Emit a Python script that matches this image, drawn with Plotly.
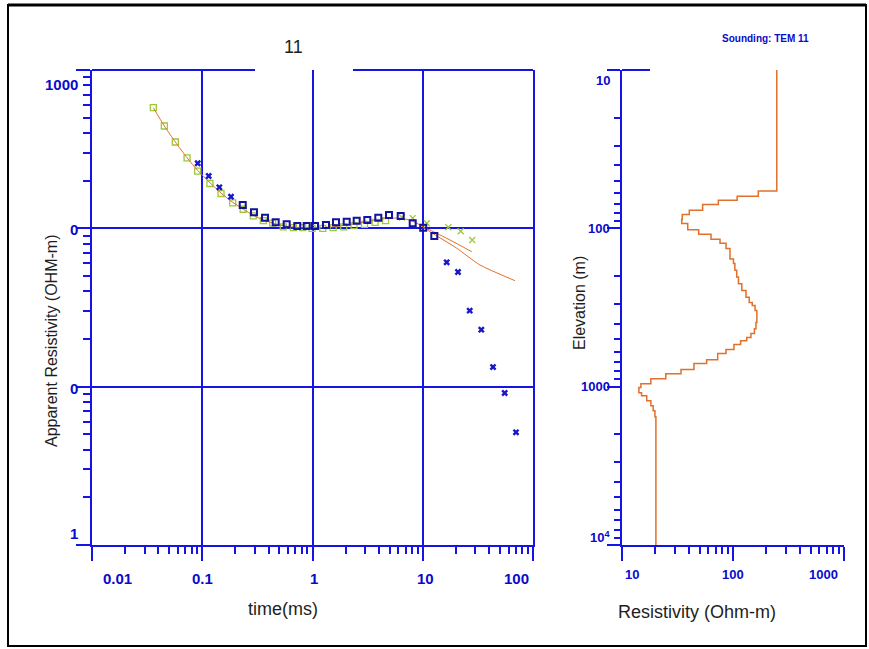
import numpy as np
import plotly.graph_objects as go

# ---------------- data ----------------
# Left panel: apparent resistivity vs time (ms)
green_sq_t = [0.036, 0.0453, 0.057, 0.0728, 0.091, 0.1175, 0.148, 0.189, 0.235, 0.29,
              0.358, 0.435, 0.543, 0.67, 0.815, 0.99, 1.24, 1.54, 1.92, 2.38, 2.96, 3.7, 4.6]
green_sq_rho = [578, 443, 351, 279, 230, 192, 166, 145, 132, 120,
                112, 108, 102, 101, 101, 100, 100, 101, 102, 104, 106, 109, 112]

green_x_t = [6.5, 8.1, 10.9, 17.05, 22.1, 28.1]
green_x_rho = [117, 116, 107.6, 101.5, 95.8, 84.4]

blue_sq_t = [0.2328, 0.2946, 0.3709, 0.4637, 0.5834, 0.728, 0.886, 1.054, 1.326, 1.634,
             2.043, 2.517, 3.142, 3.952, 4.941, 6.31, 8.11, 10.1, 12.73]
blue_sq_rho = [140.4, 126.2, 116.7, 109.2, 106, 103.4, 103.4, 103.4, 105, 109.2,
               110.1, 111.7, 112.9, 116.7, 121.4, 119.6, 107.6, 100.9, 89.5]

blue_x_t = [0.091, 0.1144, 0.1428, 0.1823, 16.49, 20.88, 26.66, 33.97, 43.38, 55.38, 70.1]
blue_x_rho = [257.6, 214, 181.6, 158.4, 61.0, 53.0, 30.2, 22.9, 13.3, 9.12, 5.15]

fit_t = [0.036, 0.0453, 0.057, 0.0728, 0.091, 0.1175, 0.148, 0.189, 0.235, 0.29, 0.358,
         0.435, 0.543, 0.67, 0.815, 1.054, 1.5, 2.043, 3.142, 4.5, 6.3, 8.11, 10.1, 11.7,
         20.3, 33.0, 68.7]
fit_rho = [578, 443, 351, 279, 232, 194, 167, 146, 132, 121, 113,
           108, 104, 102, 101, 101, 102, 105, 110, 115, 116, 111, 102, 95,
           75, 58.7, 46.7]

fit2_t = [10.1, 11.6, 17.66, 27.8]
fit2_rho = [101, 97.6, 84.4, 71.2]

# Right panel: layered resistivity model
layer_rho = [248, 169, 109, 73.8, 53.3, 40.4, 34.9, 34.5, 39.1, 49.1, 63.4, 76.4, 86.5, 94,
             101, 104, 108, 112, 120, 131, 140, 149, 158, 164, 161, 156, 145, 133, 117, 102,
             86.5, 72.8, 57.9, 44.5, 34, 24.8, 18.2, 14.8, 14.2, 15.0, 16.7, 18.2, 19.1, 19.8,
             20.2]
layer_bottom = [58.1, 62.7, 66.5, 70.8, 76.9, 81.9, 88.1, 93.3, 102, 109, 117, 124, 134, 156,
                167, 184, 203, 224, 247, 272, 294, 307, 330, 394, 430, 462, 490, 512, 542,
                583, 618, 675, 715, 780, 828, 890, 957, 1014, 1091, 1140, 1227, 1319, 1419,
                1549]
model_top = 10
model_base = 10000

# tick labels (as shown in the reference)
left_x_ticks = [0.01, 0.1, 1, 10, 100]
left_x_labels = ["0.01", "0.1", "1", "10", "100"]
left_y_ticks = [1000, 100, 10, 1]
left_y_labels = ["1000", "0", "0", "1"]
right_x_ticks = [10, 100, 1000]
right_x_labels = ["10", "100", "1000"]
right_y_ticks = [10, 100, 1000, 10000]
right_y_labels = ["10", "100", "1000", "10<sup>4</sup>"]

# ---------------- styling ----------------
W, H = 869, 649
BLUE = "#1414E6"
LBL_BLUE = "#0A0ACC"
MK_BLUE = "#12129E"
GREEN = "#9CC83A"
ORANGE = "#E0702A"
TXT = "#1e1e1e"
NARROW = "Liberation Sans Narrow, Arial Narrow, Liberation Sans, Arial"
SANS = "Liberation Sans, Arial, sans-serif"


def fx(p):
    return p / W


def fy(p):
    return 1 - p / H


def minors(decades):
    return [m * d for d in decades for m in range(2, 10)]


fig = go.Figure()

fig.add_trace(go.Scatter(x=green_sq_t, y=green_sq_rho, mode="markers",
                         marker=dict(symbol="square-open", size=6, color=GREEN,
                                     line=dict(width=1.3, color=GREEN)),
                         xaxis="x", yaxis="y", showlegend=False))
fig.add_trace(go.Scatter(x=green_x_t, y=green_x_rho, mode="markers",
                         marker=dict(symbol="x-thin-open", size=6, color=GREEN,
                                     line=dict(width=1.3, color=GREEN)),
                         xaxis="x", yaxis="y", showlegend=False))
fig.add_trace(go.Scatter(x=fit_t, y=fit_rho, mode="lines",
                         line=dict(color=ORANGE, width=1, shape="spline", smoothing=0.6),
                         xaxis="x", yaxis="y", showlegend=False))
fig.add_trace(go.Scatter(x=fit2_t, y=fit2_rho, mode="lines",
                         line=dict(color=ORANGE, width=1, shape="spline", smoothing=0.6),
                         xaxis="x", yaxis="y", showlegend=False))
fig.add_trace(go.Scatter(x=blue_sq_t, y=blue_sq_rho, mode="markers",
                         marker=dict(symbol="square-open", size=6, color=MK_BLUE,
                                     line=dict(width=2, color=MK_BLUE)),
                         xaxis="x", yaxis="y", showlegend=False))
fig.add_trace(go.Scatter(x=blue_x_t, y=blue_x_rho, mode="markers",
                         marker=dict(symbol="x", size=6, color="#1818C8",
                                     line=dict(width=0)),
                         xaxis="x", yaxis="y", showlegend=False))

# layered model (step profile)
fig.add_trace(go.Scatter(x=layer_rho + [layer_rho[-1]],
                         y=[model_top] + layer_bottom + [model_base],
                         mode="lines", line=dict(color=ORANGE, width=1.5, shape="vh"),
                         xaxis="x2", yaxis="y2", showlegend=False))

left_dom_x = [fx(92), fx(533)]
right_dom_x = [fx(622), fx(844)]
dom_y = [fy(545), fy(70)]

common = dict(showline=True, linecolor=BLUE, linewidth=2, ticks="outside",
              tickcolor=BLUE, tickwidth=2, showticklabels=False, zeroline=False)

fig.update_layout(
    width=W, height=H,
    margin=dict(l=0, r=0, t=0, b=0),
    paper_bgcolor="white", plot_bgcolor="white",
    xaxis=dict(type="log", range=[-2, 2], domain=left_dom_x, anchor="y",
               tickvals=left_x_ticks, ticklen=14, showgrid=True,
               gridcolor=BLUE, gridwidth=2,
               minor=dict(tickvals=minors([0.01, 0.1, 1, 10]), ticks="outside",
                          ticklen=7, tickwidth=2, tickcolor=BLUE, showgrid=False),
               **common),
    yaxis=dict(type="log", range=[0, 3], domain=dom_y, anchor="x", mirror=True,
               tickvals=left_y_ticks, ticklen=14, showgrid=True,
               gridcolor=BLUE, gridwidth=2,
               minor=dict(tickvals=minors([1, 10, 100]), ticks="outside",
                          ticklen=7, tickwidth=2, tickcolor=BLUE, showgrid=False),
               **common),
    xaxis2=dict(type="log", range=[1, 3], domain=right_dom_x, anchor="y2",
                tickvals=right_x_ticks, ticklen=14, showgrid=False,
                minor=dict(tickvals=minors([10, 100]), ticks="outside",
                           ticklen=7, tickwidth=2, tickcolor=BLUE, showgrid=False),
                **common),
    yaxis2=dict(type="log", range=[4, 1], domain=dom_y, anchor="x2",
                tickvals=right_y_ticks, ticklen=13, showgrid=False,
                minor=dict(tickvals=minors([10, 100, 1000]), ticks="outside",
                           ticklen=6, tickwidth=2, tickcolor=BLUE, showgrid=False),
                **common),
    yaxis3=dict(type="log", range=[4, 1], overlaying="y2", anchor="x2", side="right",
                showline=True, linecolor=BLUE, linewidth=2, ticks="inside",
                tickvals=[100, 1000], ticklen=13, tickwidth=2, tickcolor=BLUE,
                showticklabels=False, showgrid=False, zeroline=False),
    xaxis3=dict(type="log", range=[1, 3], overlaying="x2", anchor="y2", side="top",
                showline=False, ticks="inside", tickvals=[100], ticklen=10,
                tickwidth=2, tickcolor=BLUE, showticklabels=False, showgrid=False,
                zeroline=False),
)

annotations = []
lab_font = dict(family=NARROW, size=15, color=LBL_BLUE, weight="bold")
lab_font_r = dict(family=NARROW, size=13, color=LBL_BLUE, weight="bold")

left_x_shift = {"0.01": 25, "0.1": 0, "1": 1, "10": 3, "100": -17}
for v, lab in zip(left_x_ticks, left_x_labels):
    annotations.append(dict(x=np.log10(v), xref="x", y=0, yref="y domain", text=lab,
                            showarrow=False, xanchor="center", yanchor="middle",
                            xshift=left_x_shift[lab], yshift=-33, font=lab_font))

left_y_shift = [-15, -1, -2, 12]
for v, lab, s in zip(left_y_ticks, left_y_labels, left_y_shift):
    annotations.append(dict(x=0, xref="x domain", y=np.log10(v), yref="y", text=lab,
                            showarrow=False, xanchor="right", yanchor="middle",
                            xshift=-12, yshift=s, font=lab_font))

right_x_shift = [10, 0, -21]
for v, lab, s in zip(right_x_ticks, right_x_labels, right_x_shift):
    annotations.append(dict(x=np.log10(v), xref="x2", y=0, yref="y2 domain", text=lab,
                            showarrow=False, xanchor="center", yanchor="middle",
                            xshift=s, yshift=-29, font=lab_font_r))

right_y_shift = [-11, 0, 0, 8]
for v, lab, s in zip(right_y_ticks, right_y_labels, right_y_shift):
    annotations.append(dict(x=0, xref="x2 domain", y=np.log10(v), yref="y2", text=lab,
                            showarrow=False, xanchor="right", yanchor="middle",
                            xshift=-10, yshift=s, font=lab_font_r))

centered = dict(xref="paper", yref="paper", showarrow=False,
                xanchor="center", yanchor="middle")
annotations += [
    dict(x=fx(283), y=fy(609), text="time(ms)",
         font=dict(family=SANS, size=18, color=TXT), **centered),
    dict(x=fx(697), y=fy(612), text="Resistivity (Ohm-m)",
         font=dict(family=SANS, size=18, color=TXT), **centered),
    dict(x=fx(51), y=fy(341), text="Apparent Resistivity (OHM-m)", textangle=-90,
         font=dict(family=SANS, size=16, color=TXT), **centered),
    dict(x=fx(579), y=fy(303), text="Elevation (m)", textangle=-90,
         font=dict(family=SANS, size=16, color=TXT), **centered),
    dict(x=fx(293), y=fy(47), text="11",
         font=dict(family=SANS, size=18, color=TXT), **centered),
    dict(x=fx(765), y=fy(38), text="Sounding: TEM 11",
         font=dict(family=SANS, size=10, color=LBL_BLUE, weight="bold"), **centered),
]
fig.update_layout(annotations=annotations)

shapes = [
    # outer frame
    dict(type="rect", xref="paper", yref="paper", x0=fx(8), x1=fx(866), y0=fy(646),
         y1=fy(5), line=dict(color="black", width=2)),
    dict(type="line", xref="paper", yref="paper", x0=fx(8), x1=fx(866), y0=fy(5),
         y1=fy(5), line=dict(color="black", width=3)),
    # partial top borders
    dict(type="line", xref="paper", yref="paper", x0=fx(92), x1=fx(255), y0=fy(70),
         y1=fy(70), line=dict(color=BLUE, width=2)),
    dict(type="line", xref="paper", yref="paper", x0=fx(353), x1=fx(533), y0=fy(70),
         y1=fy(70), line=dict(color=BLUE, width=2)),
    dict(type="line", xref="paper", yref="paper", x0=fx(622), x1=fx(650), y0=fy(70),
         y1=fy(70), line=dict(color=BLUE, width=2)),
]
fig.update_layout(shapes=shapes)

fig.write_html("out.html",
               config={"displayModeBar": False},
               post_script="document.body.style.margin='0px';"
                           "document.body.style.overflow='hidden';")
